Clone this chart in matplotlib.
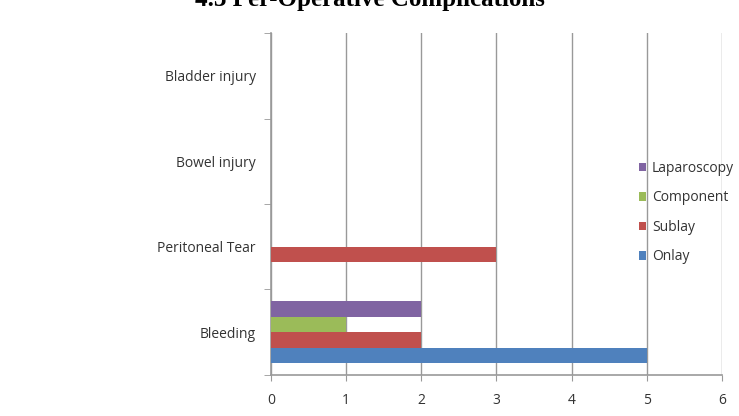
import numpy as np
import matplotlib.pyplot as plt
from matplotlib.ticker import FixedLocator

categories = ["Bleeding", "Peritoneal Tear", "Bowel injury", "Bladder injury"]
series = ["Onlay", "Sublay", "Component", "Laparoscopy"]
onlay = [5, 0, 0, 0]
sublay = [2, 3, 0, 0]
component = [1, 0, 0, 0]
laparoscopy = [2, 0, 0, 0]
values = [onlay, sublay, component, laparoscopy]
colors = ["#4F81BD", "#C0504D", "#9BBB59", "#8064A2"]

plt.rcParams['font.family'] = ['Open Sans', 'DejaVu Sans']

fig = plt.figure(figsize=(7.39, 4.16), dpi=100)
ax = fig.add_axes([0.3667, 0.0986, 0.6103, 0.822])

y = np.arange(len(categories))
h = 0.18
for i, (name, vals, c) in enumerate(zip(series, values, colors)):
    ax.barh(y + (i - 1.5) * h, vals, height=h, color=c, label=name, zorder=3)

ax.set_xlim(0, 6)
ax.set_ylim(-0.5, len(categories) - 0.5)
ax.set_xticks(range(7))
ax.set_yticks(y)
ax.set_yticklabels(categories, fontsize=10, color="#333333")
ax.yaxis.set_minor_locator(FixedLocator(np.arange(-0.5, len(categories), 1)))
ax.tick_params(axis='y', which='major', length=0, pad=11)
ax.tick_params(axis='y', which='minor', length=5, color="#999999", direction='out')
ax.tick_params(axis='x', length=4, color="#999999", labelsize=10, labelcolor="#333333", pad=9)
ax.grid(axis='x', color="#999999", linewidth=1, zorder=0)
for s in ['top', 'right']:
    ax.spines[s].set_visible(False)
for s in ['left', 'bottom']:
    ax.spines[s].set_color("#999999")
    ax.spines[s].set_linewidth(1.2)

handles, labels = ax.get_legend_handles_labels()
fig.legend(handles[::-1], labels[::-1], loc='center left', bbox_to_anchor=(0.855, 0.489),
           frameon=False, fontsize=10, labelspacing=1.05, handlelength=0.55,
           handleheight=0.55, handletextpad=0.4, borderpad=0, labelcolor="#333333")

fig.text(0.5, 0.985, "4.3 Per-Operative Complications", ha='center', va='baseline',
         fontsize=18, fontweight='bold', family='Liberation Serif')

fig.savefig("out.png", dpi=100)
